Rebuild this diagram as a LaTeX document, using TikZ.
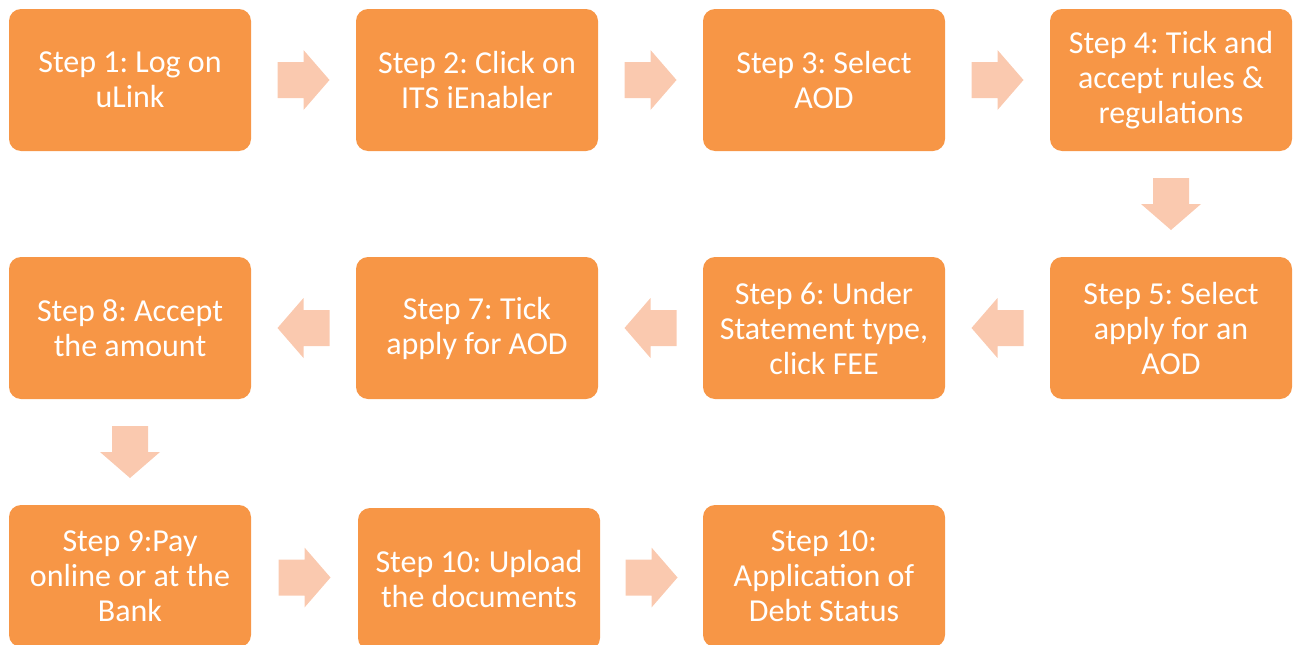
\documentclass[tikz,border=0pt]{standalone}
\usepackage{fontspec}
\setmainfont{Carlito}
\frenchspacing
\usetikzlibrary{calc}
\definecolor{stepfill}{HTML}{F79646}
\definecolor{arrowfill}{HTML}{FAC9AF}
\tikzset{
  stepbox/.style={fill=stepfill, rounded corners=12pt, minimum width=242pt,
    minimum height=142pt, inner sep=0pt, align=center, text=white,
    font=\fontsize{32}{35}\selectfont},
  pics/blockarrow/.style={code={
    \fill[arrowfill] (-26,-18) -- (0,-18) -- (0,-30) -- (26,0) -- (0,30)
      -- (0,18) -- (-26,18) -- cycle;}}
}
\begin{document}
\begin{tikzpicture}[x=1pt, y=-1pt]
        \useasboundingbox (0,0) rectangle (1294,645);
        %first row
        \node[stepbox](s1) at (130,80){Step 1: Log on\\uLink};
        \node[stepbox](s2) at (477,80){Step 2: Click on\\ITS iEnabler};
        \node[stepbox](s3) at (824,80){Step 3: Select\\AOD};
        \node[stepbox](s4) at (1171,80){Step 4: Tick and\\accept rules \&\\regulations};
        
        %second row
        \node[stepbox](s5) at (1171,328){Step 5: Select\\apply for an\\AOD};
        \node[stepbox](s6) at (824,328){Step 6: Under\\Statement type,\\click FEE};
        \node[stepbox](s7) at (477,328){Step 7: Tick\\apply for AOD};
        \node[stepbox](s8) at (130,328){Step 8: Accept\\the amount};
        
        %third row
        \node[stepbox](s9) at (130,576){Step 9:Pay\\online or at the\\Bank};
        \node[stepbox](s10) at (479,579){Step 10: Upload\\the documents};
        \node[stepbox](s11) at (824,576){Step 10:\\Application of\\Debt Status};
        
        %arrows
        \pic at ($(s1.east)!0.5!(s2.west)$) {blockarrow};
        \pic at ($(s2.east)!0.5!(s3.west)$) {blockarrow};
        \pic at ($(s3.east)!0.5!(s4.west)$) {blockarrow};
        \pic[rotate=-90] at ($(s4.south)!0.5!(s5.north)$) {blockarrow};
        \pic[rotate=180] at ($(s5.west)!0.5!(s6.east)$) {blockarrow};
        \pic[rotate=180] at ($(s6.west)!0.5!(s7.east)$) {blockarrow};
        \pic[rotate=180] at ($(s7.west)!0.5!(s8.east)$) {blockarrow};
        \pic[rotate=-90] at ($(s8.south)!0.5!(s9.north)$) {blockarrow};
        \pic at ($(s9.east)!0.5!(s10.west)$) {blockarrow};
        \pic at ($(s10.east)!0.5!(s11.west)$) {blockarrow};
        
\end{tikzpicture}
\end{document}
